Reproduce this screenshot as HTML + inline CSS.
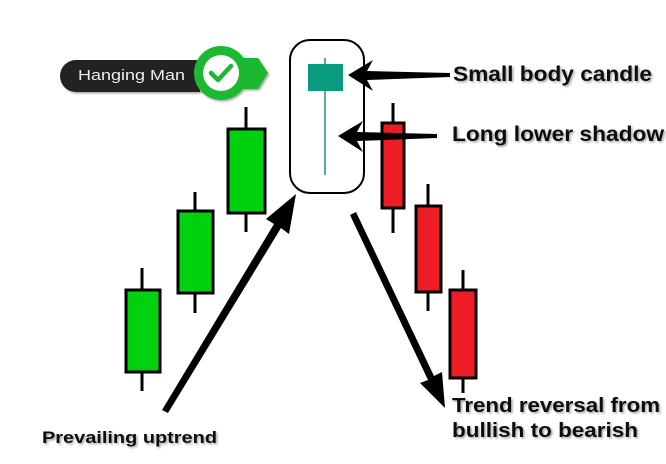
<!DOCTYPE html>
<html><head><meta charset="utf-8"><style>
html,body{margin:0;padding:0;background:#fff;}
svg{display:block;}
text{font-family:"Liberation Sans",Arial,sans-serif;font-weight:bold;fill:#111;}
</style></head><body>
<svg width="666" height="464" viewBox="0 0 666 464" xmlns="http://www.w3.org/2000/svg">
<defs>
<filter id="sh" x="-10%" y="-30%" width="130%" height="160%"><feDropShadow dx="1.5" dy="1.5" stdDeviation="1" flood-color="#000" flood-opacity="0.35"/></filter>
</defs>
<!-- badge -->
<g filter="url(#sh)">
<path d="M76 60 H200 V92 H76 A16 16 0 0 1 76 60 Z" fill="#222"/>
<path d="M220 58 H258 L268 73 L258 89 H220 Z" fill="#1db832"/>
<circle cx="221" cy="73" r="27" fill="#1db832"/>
<circle cx="221" cy="73" r="18" fill="#fff"/>
</g>
<path d="M211 73 L218 80 L231 66" stroke="#1db832" stroke-width="4.5" fill="none" stroke-linecap="round" stroke-linejoin="round"/>
<text x="78" y="80" style="font-weight:normal;fill:#eee;font-size:15px" textLength="107" lengthAdjust="spacingAndGlyphs">Hanging Man</text>

<!-- green candles -->
<g stroke="#000" stroke-width="3">
<line x1="142" y1="268" x2="142" y2="391"/>
<rect x="126" y="290" width="34" height="82" fill="#00d10e"/>
<line x1="195" y1="192" x2="195" y2="313"/>
<rect x="178" y="211" width="35" height="82" fill="#00d10e"/>
<line x1="246" y1="107" x2="246" y2="232"/>
<rect x="228" y="129" width="37" height="84" fill="#00d10e"/>
<!-- red candles -->
<line x1="393" y1="103" x2="393" y2="233"/>
<rect x="382" y="123" width="22" height="85" fill="#ee1c25"/>
<line x1="428" y1="184" x2="428" y2="311"/>
<rect x="416" y="206" width="25" height="86" fill="#ee1c25"/>
<line x1="463" y1="270" x2="463" y2="393"/>
<rect x="450" y="290" width="26" height="88" fill="#ee1c25"/>
</g>

<!-- highlight box -->
<rect x="290" y="40" width="74" height="153" rx="20" fill="none" stroke="#000" stroke-width="2"/>
<line x1="325" y1="58" x2="325" y2="175" stroke="#0a9a7d" stroke-width="1.5"/>
<rect x="308" y="64" width="35" height="27" fill="#0a9a7d"/>

<!-- side arrows -->
<path d="M348 75 L373 60 L367 71 L450 73 L450 77 L367 80 L373 91 Z" fill="#000"/>
<path d="M338 136 L363 121 L357 132 L437 134 L437 138 L357 141 L363 152 Z" fill="#000"/>

<!-- trend arrows -->
<path d="M162 410 L274 224 L266 219 L296 194 L289 234 L281 228 L168 413 Z" fill="#000"/>
<path d="M350 215 L356 212 L434 376 L442 372 L445 408 L420 383 L428 380 Z" fill="#000"/>

<!-- labels -->
<g filter="url(#sh)">
<text x="453" y="81" style="font-size:21px" textLength="199" lengthAdjust="spacingAndGlyphs">Small body candle</text>
<text x="452" y="141" style="font-size:21px" textLength="212" lengthAdjust="spacingAndGlyphs">Long lower shadow</text>
<text x="42" y="443" style="font-size:17px" textLength="175" lengthAdjust="spacingAndGlyphs">Prevailing uptrend</text>
<text x="452" y="412" style="font-size:20px" textLength="208" lengthAdjust="spacingAndGlyphs">Trend reversal from</text>
<text x="452" y="437" style="font-size:20px" textLength="186" lengthAdjust="spacingAndGlyphs">bullish to bearish</text>
</g>
</svg>
</body></html>
